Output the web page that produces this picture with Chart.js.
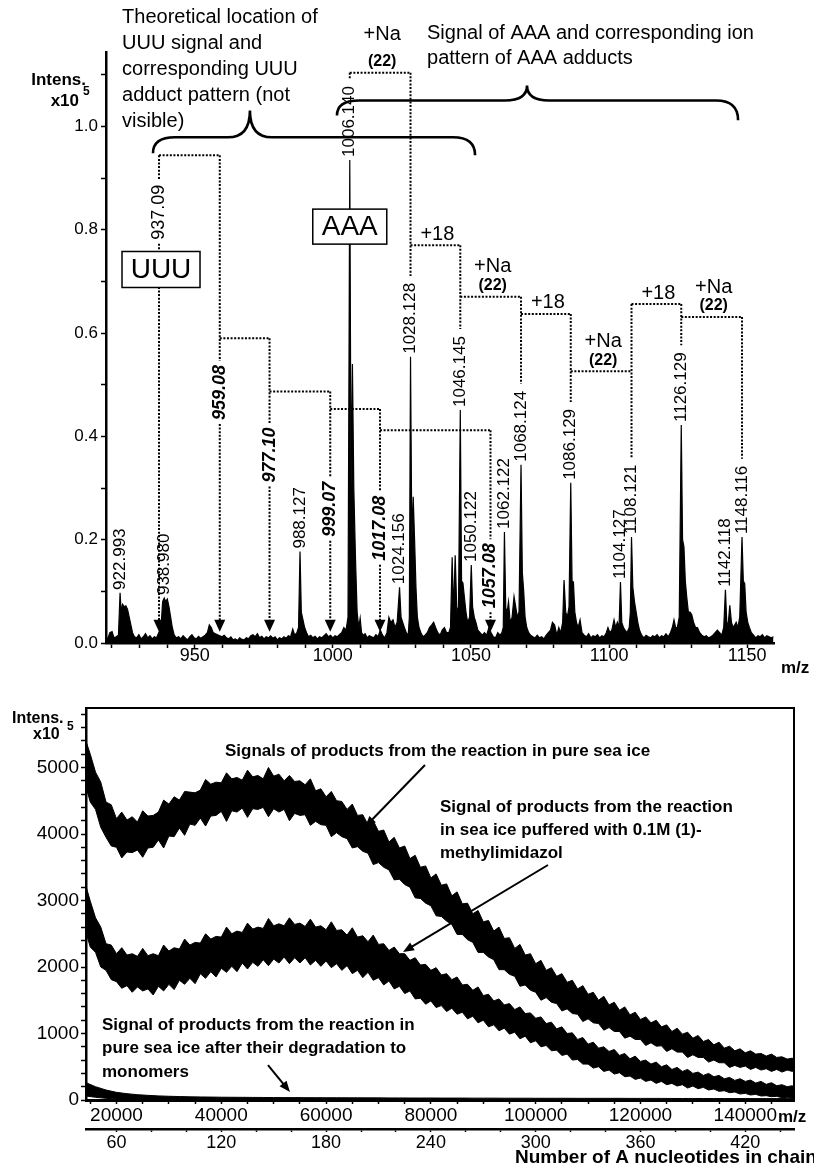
<!DOCTYPE html>
<html>
<head>
<meta charset="utf-8">
<script src="https://cdn.jsdelivr.net/npm/chart.js@4.4.1/dist/chart.umd.min.js"></script>
<style>
  html, body { margin: 0; padding: 0; background: #fff; }
  #wrap { position: relative; width: 814px; height: 1172px; overflow: hidden; }
  #top { position: absolute; left: 0; top: 0; }
  #bottom { position: absolute; left: 0; top: 690px; }
</style>
</head>
<body>
<div id="wrap">
  <canvas id="top" width="814" height="690"></canvas>
  <canvas id="bottom" width="814" height="482"></canvas>
</div>
<script>
const FONT = '"Liberation Sans", Arial, Helvetica, sans-serif';
Chart.defaults.font.family = FONT;
Chart.defaults.color = '#000';

// ---------- upper panel: spectrum around the trimers (intensity x10^5) ----------
const specMz = [
  917.9, 918.5, 919.3, 920.1, 920.8, 921.6, 922.4, 922.993, 923.4, 923.9,
  924.5, 925.1, 925.7, 926.3, 926.9, 927.5, 928.2, 929.0, 929.8, 930.6,
  931.4, 932.2, 933.0, 933.8, 934.6, 935.4, 936.2, 937.0, 937.8, 938.4,
  938.98, 939.5, 940.1, 940.7, 941.3, 941.9, 942.6, 943.4, 944.2, 945.0,
  945.8, 946.6, 947.4, 948.2, 949.0, 949.8, 950.6, 951.4, 952.2, 953.0,
  953.8, 954.6, 955.3, 956.0, 956.7, 957.5, 958.3, 959.1, 959.9, 960.7,
  961.5, 962.3, 963.1, 963.9, 964.7, 965.5, 966.3, 967.1, 967.9, 968.7,
  969.5, 970.3, 971.1, 971.9, 972.7, 973.5, 974.3, 975.1, 975.9, 976.7,
  977.5, 978.3, 979.1, 979.9, 980.7, 981.5, 982.3, 983.1, 983.9, 984.7,
  985.5, 986.2, 987.0, 987.6, 988.127, 988.6, 989.2, 989.8, 990.5, 991.2,
  992.0, 992.8, 993.6, 994.4, 995.2, 996.0, 996.8, 997.6, 998.4, 999.2,
  1000.0, 1000.8, 1001.6, 1002.4, 1003.2, 1004.0, 1004.8, 1005.5, 1006.14, 1006.6,
  1007.1, 1007.6, 1008.2, 1008.8, 1009.4, 1009.9, 1010.4, 1011.0, 1011.7, 1012.4,
  1013.2, 1014.0, 1014.8, 1015.6, 1016.4, 1017.2, 1018.0, 1018.8, 1019.6, 1020.3,
  1021.0, 1021.8, 1022.5, 1023.3, 1024.156, 1024.7, 1025.3, 1025.9, 1026.6, 1027.3,
  1027.7, 1028.128, 1028.6, 1029.1, 1029.6, 1030.1, 1030.6, 1031.2, 1031.9, 1032.6,
  1033.4, 1034.2, 1035.0, 1035.8, 1036.5, 1037.2, 1038.0, 1038.8, 1039.6, 1040.4,
  1041.2, 1042.0, 1042.6, 1043.2, 1043.7, 1044.3, 1044.9, 1045.5, 1046.145, 1046.6,
  1047.1, 1047.6, 1048.2, 1048.8, 1049.5, 1050.122, 1050.6, 1051.2, 1051.8, 1052.5,
  1053.3, 1054.1, 1054.9, 1055.7, 1056.5, 1057.3, 1058.1, 1058.9, 1059.7, 1060.5,
  1061.2, 1061.7, 1062.122, 1062.6, 1063.1, 1063.6, 1064.2, 1064.9, 1065.6, 1066.2,
  1066.8, 1067.4, 1068.124, 1068.6, 1069.1, 1069.6, 1070.2, 1070.9, 1071.6, 1072.4,
  1073.2, 1074.0, 1074.8, 1075.6, 1076.4, 1077.2, 1078.0, 1078.8, 1079.5, 1080.3,
  1081.1, 1081.8, 1082.5, 1083.2, 1083.7, 1084.3, 1084.9, 1085.5, 1086.129, 1086.6,
  1087.1, 1087.6, 1088.2, 1088.8, 1089.5, 1090.2, 1091.0, 1091.8, 1092.6, 1093.4,
  1094.2, 1095.0, 1095.8, 1096.6, 1097.4, 1098.2, 1099.0, 1099.6, 1100.3, 1101.0,
  1101.8, 1102.4, 1103.0, 1103.6, 1104.127, 1104.6, 1105.2, 1105.8, 1106.5, 1107.3,
  1107.7, 1108.121, 1108.6, 1109.2, 1109.8, 1110.4, 1111.0, 1111.8, 1112.6, 1113.4,
  1114.2, 1115.0, 1115.8, 1116.6, 1117.4, 1118.2, 1119.0, 1119.8, 1120.6, 1121.4,
  1122.2, 1122.9, 1123.5, 1124.1, 1124.7, 1125.4, 1126.129, 1126.6, 1127.1, 1127.6,
  1128.1, 1128.7, 1129.3, 1129.9, 1130.6, 1131.3, 1132.0, 1132.8, 1133.6, 1134.4,
  1135.2, 1136.0, 1136.8, 1137.6, 1138.4, 1139.2, 1140.0, 1140.8, 1141.5, 1142.118,
  1142.6, 1143.1, 1143.7, 1144.3, 1144.9, 1145.5, 1146.0, 1146.6, 1147.3, 1148.116,
  1148.6, 1149.1, 1149.6, 1150.2, 1150.8, 1151.5, 1152.3, 1153.1, 1153.9, 1154.7,
  1155.5, 1156.3, 1157.1, 1157.9, 1158.7, 1159.5
];
const specInt = [
  .012, .008, .02, .022, .01, .012, .015, .097, .06, .075,
  .07, .072, .065, .05, .035, .02, .012, .01, .016, .008,
  .012, .018, .01, .014, .008, .012, .01, .02, .03, .08,
  .087, .08, .085, .07, .05, .03, .015, .01, .012, .008,
  .014, .01, .006, .012, .016, .01, .008, .013, .009, .012,
  .015, .02, .035, .03, .02, .018, .016, .014, .012, .015,
  .01, .008, .012, .006, .008, .005, .01, .007, .006, .01,
  .008, .014, .016, .012, .018, .01, .013, .008, .012, .01,
  .014, .009, .012, .006, .01, .008, .012, .009, .014, .012,
  .027, .015, .02, .03, .177, .06, .045, .03, .02, .012,
  .015, .01, .013, .008, .012, .01, .014, .018, .012, .015,
  .01, .014, .012, .016, .02, .03, .025, .05, .935, .3,
  .54, .3, .165, .06, .03, .048, .02, .015, .018, .01,
  .014, .012, .01, .016, .012, .025, .015, .01, .02, .05,
  .04, .045, .03, .04, .108, .05, .04, .03, .02, .015,
  .05, .554, .2, .283, .2, .108, .05, .03, .02, .012,
  .015, .02, .03, .035, .04, .03, .02, .015, .025, .03,
  .02, .02, .03, .166, .06, .17, .06, .07, .451, .12,
  .116, .09, .06, .04, .05, .151, .07, .05, .04, .025,
  .02, .015, .02, .015, .03, .02, .012, .01, .02, .015,
  .02, .03, .215, .068, .06, .08, .04, .05, .09, .07,
  .05, .06, .345, .137, .1, .05, .03, .02, .015, .012,
  .01, .015, .01, .012, .008, .015, .02, .025, .04, .035,
  .015, .03, .02, .04, .122, .06, .05, .07, .31, .12,
  .118, .06, .04, .03, .045, .02, .015, .012, .018, .01,
  .014, .012, .016, .01, .014, .012, .02, .03, .02, .025,
  .045, .03, .04, .03, .118, .04, .03, .025, .02, .03,
  .06, .205, .108, .08, .06, .04, .025, .015, .01, .015,
  .012, .01, .014, .012, .016, .01, .014, .012, .018, .012,
  .02, .03, .045, .03, .03, .05, .422, .2, .186, .12,
  .09, .06, .06, .055, .04, .03, .03, .02, .015, .012,
  .014, .01, .012, .015, .02, .025, .02, .015, .03, .103,
  .04, .035, .073, .04, .03, .035, .04, .03, .05, .205,
  .12, .115, .06, .04, .03, .02, .015, .01, .014, .012,
  .016, .01, .014, .012, .01, .012
];
const peakLabels = [922.993, 938.980, 988.127, 1006.140, 1024.156, 1028.128, 1046.145, 1050.122,
  1062.122, 1068.124, 1086.129, 1104.127, 1108.121, 1126.129, 1142.118, 1148.116];

// AAA adduct ladder and the step between neighbours
const aaaChain = [1006.140, 1028.128, 1046.145, 1068.124, 1086.129, 1108.121, 1126.129, 1148.116];
const aaaSteps = ['+Na', '+18', '+Na', '+18', '+Na', '+18', '+Na'];
const aaaLevels = [1.104, 0.770, 0.670, 0.637, 0.526, 0.656, 0.631];

// theoretical UUU positions (not observed)
const uuuChain = [937.09, 959.08, 977.10, 999.07, 1017.08, 1057.08];
const uuuLevels = [0.944, 0.590, 0.487, 0.453, 0.412];

const topXLabels = [950, 1000, 1050, 1100, 1150];
const topYLabels = [0.0, 0.2, 0.4, 0.6, 0.8, 1.0];

// ---------- lower panel: broad polymer distributions ----------
const bandMz = [
  14200, 15000, 16000, 17000, 18000, 19000, 20000, 21000, 22000, 23000,
  24000, 25000, 26000, 27000, 28000, 29000, 30000, 31000, 32000, 33000,
  34000, 35000, 36000, 37000, 38000, 39000, 40000, 41000, 42000, 43000,
  44000, 45000, 46000, 47000, 48000, 49000, 50000, 51000, 52000, 53000,
  54000, 55000, 56000, 57000, 58000, 59000, 60000, 61000, 62000, 63000,
  64000, 65000, 66000, 67000, 68000, 69000, 70000, 71000, 72000, 73000,
  74000, 75000, 76000, 77000, 78000, 79000, 80000, 81000, 82000, 83000,
  84000, 85000, 86000, 87000, 88000, 89000, 90000, 91000, 92000, 93000,
  94000, 95000, 96000, 97000, 98000, 99000, 100000, 101000, 102000, 103000,
  104000, 105000, 106000, 107000, 108000, 109000, 110000, 111000, 112000, 113000,
  114000, 115000, 116000, 117000, 118000, 119000, 120000, 121000, 122000, 123000,
  124000, 125000, 126000, 127000, 128000, 129000, 130000, 131000, 132000, 133000,
  134000, 135000, 136000, 137000, 138000, 139000, 140000, 141000, 142000, 143000,
  144000, 145000, 146000, 147000, 148000, 149000, 149300
];
// pure sea ice: upper and lower edge of the noisy trace
const pureHigh = [
  5390, 5200, 4930, 4780, 4480, 4440, 4230, 4330, 4210, 4260,
  4180, 4350, 4270, 4280, 4330, 4510, 4450, 4560, 4510, 4640,
  4630, 4620, 4660, 4820, 4750, 4780, 4770, 4920, 4830, 4850,
  4810, 4960, 4860, 4880, 4830, 5000, 4870, 4900, 4800, 4880,
  4790, 4800, 4740, 4830, 4650, 4680, 4560, 4640, 4500, 4490,
  4370, 4450, 4280, 4290, 4140, 4200, 4040, 4060, 3880, 3950,
  3790, 3820, 3630, 3680, 3500, 3520, 3340, 3400, 3230, 3250,
  3070, 3130, 2950, 2960, 2800, 2850, 2680, 2700, 2540, 2600,
  2430, 2440, 2280, 2340, 2180, 2200, 2050, 2100, 1950, 1990,
  1860, 1900, 1770, 1800, 1670, 1720, 1590, 1620, 1500, 1560,
  1430, 1470, 1350, 1400, 1280, 1320, 1210, 1250, 1160, 1200,
  1100, 1130, 1030, 1080, 990, 1020, 930, 970, 880, 910,
  830, 870, 780, 810, 740, 770, 710, 740, 690, 700,
  660, 690, 640, 650, 615, 630, 600
];
const pureLow = [
  4700, 4480, 4370, 4100, 3950, 3820, 3800, 3640, 3730, 3720,
  3760, 3650, 3790, 3800, 3910, 3790, 3970, 3960, 4090, 3980,
  4150, 4130, 4240, 4120, 4270, 4280, 4340, 4190, 4350, 4330,
  4390, 4250, 4380, 4370, 4400, 4260, 4380, 4330, 4370, 4200,
  4310, 4280, 4290, 4130, 4190, 4140, 4130, 3960, 4020, 3960,
  3930, 3790, 3810, 3740, 3710, 3540, 3570, 3500, 3460, 3310,
  3320, 3240, 3200, 3040, 3030, 2960, 2920, 2770, 2760, 2690,
  2640, 2490, 2490, 2410, 2370, 2220, 2220, 2150, 2110, 1960,
  1960, 1890, 1860, 1710, 1730, 1650, 1620, 1500, 1540, 1470,
  1450, 1340, 1370, 1300, 1290, 1180, 1220, 1160, 1150, 1050,
  1090, 1030, 1030, 930, 960, 910, 910, 820, 860, 810,
  815, 730, 770, 720, 720, 640, 680, 640, 640, 570,
  600, 560, 560, 490, 520, 490, 510, 460, 490, 450,
  470, 430, 460, 420, 450, 430, 450
];
// sea ice buffered with 0.1M (1)-methylimidazol
const bufHigh = [
  3210, 2990, 2740, 2600, 2350, 2330, 2200, 2290, 2180, 2200,
  2160, 2280, 2170, 2200, 2170, 2330, 2240, 2290, 2270, 2420,
  2330, 2370, 2360, 2500, 2420, 2460, 2450, 2600, 2500, 2540,
  2520, 2660, 2570, 2600, 2580, 2730, 2620, 2650, 2620, 2740,
  2640, 2660, 2610, 2720, 2600, 2620, 2560, 2680, 2550, 2560,
  2480, 2590, 2450, 2470, 2380, 2480, 2340, 2350, 2250, 2300,
  2200, 2200, 2100, 2140, 2030, 2040, 1950, 1990, 1880, 1900,
  1810, 1850, 1730, 1740, 1650, 1700, 1570, 1590, 1490, 1520,
  1430, 1450, 1360, 1400, 1300, 1310, 1230, 1250, 1150, 1170,
  1070, 1100, 1000, 1010, 910, 940, 840, 870, 780, 800,
  730, 760, 670, 700, 620, 660, 580, 600, 540, 570,
  500, 530, 460, 490, 430, 460, 400, 420, 370, 400,
  350, 370, 320, 340, 295, 320, 280, 300, 255, 280,
  235, 260, 215, 230, 200, 215, 190
];
const bufLow = [
  2510, 2300, 2220, 2000, 1950, 1810, 1780, 1680, 1720, 1620,
  1700, 1640, 1670, 1580, 1710, 1640, 1740, 1660, 1800, 1740,
  1830, 1750, 1900, 1830, 1930, 1850, 1980, 1920, 2010, 1930,
  2060, 1970, 2070, 2010, 2110, 2020, 2120, 2060, 2150, 2050,
  2140, 2060, 2140, 2030, 2100, 2010, 2090, 1990, 2050, 1950,
  2020, 1900, 1950, 1840, 1920, 1800, 1840, 1730, 1790, 1670,
  1710, 1600, 1640, 1520, 1530, 1440, 1490, 1390, 1420, 1330,
  1380, 1290, 1320, 1220, 1260, 1160, 1200, 1100, 1130, 1040,
  1080, 990, 1020, 920, 960, 860, 890, 800, 820, 740,
  750, 670, 690, 600, 610, 540, 540, 480, 500, 430,
  450, 390, 410, 350, 360, 310, 330, 280, 300, 250,
  280, 230, 250, 210, 230, 180, 210, 170, 190, 150,
  165, 130, 140, 110, 120, 90, 100, 75, 85, 60,
  65, 50, 55, 35, 40, 25, 30
];
// after degradation to monomers
const monoMz = [
  14200, 16000, 18000, 20000, 22000, 24000, 26000, 28000, 30000, 32000,
  34000, 36000, 38000, 40000, 42000, 44000, 46000, 48000, 50000, 52000,
  54000, 56000, 58000, 60000, 62000, 64000, 66000, 68000, 70000, 72000,
  74000, 76000, 78000, 80000, 82000, 84000, 86000, 88000, 90000, 92000,
  94000, 96000, 98000, 100000, 102000, 104000, 106000, 108000, 110000, 112000,
  114000, 116000, 118000, 120000, 122000, 124000, 126000, 128000, 130000, 132000,
  134000, 136000, 138000, 140000, 142000, 144000, 146000, 148000, 149300
];
const monoHigh = [
  260, 200, 150, 115, 95, 80, 70, 62, 56, 52,
  48, 46, 44, 42, 41, 40, 39, 38, 37, 36,
  36, 35, 35, 34, 34, 33, 33, 32, 32, 31,
  31, 30, 30, 30, 29, 29, 29, 28, 28, 28,
  27, 27, 27, 26, 26, 26, 26, 25, 25, 25,
  25, 25, 24, 24, 24, 24, 23, 23, 23, 23,
  22, 22, 22, 22, 21, 21, 21, 21, 20
];
const monoLow = [
  60, 40, 25, 15, 10, 8, 6, 5, 4, 4,
  3, 3, 3, 3, 3, 3, 3, 3, 3, 3,
  3, 3, 3, 3, 3, 3, 3, 3, 3, 3,
  3, 3, 3, 3, 3, 3, 3, 3, 3, 3,
  3, 3, 3, 3, 3, 3, 3, 3, 3, 3,
  3, 3, 3, 3, 3, 3, 3, 3, 3, 3,
  3, 3, 3, 3, 3, 3, 3, 3, 3
];
const massPerNucleotide = 333.33;
const bottomXLabels = [20000, 40000, 60000, 80000, 100000, 120000, 140000];
const bottomYLabels = [0, 1000, 2000, 3000, 4000, 5000];
const nucleotideLabels = [60, 120, 180, 240, 300, 360, 420];

// ---------- helpers ----------
const hasLabel = (list, v) => list.some(l => Math.abs(l - v) < 1e-6);

// tick marks at every multiple of step inside the axis range
const stepTicks = step => scale => {
  const out = [];
  for (let v = Math.ceil(scale.min / step - 1e-9) * step; v <= scale.max + 1e-9; v += step) {
    out.push({ value: Math.round(v * 1000) / 1000 });
  }
  scale.ticks = out;
};

function peakHeight(m) {
  let best = 0;
  specMz.forEach((v, i) => { if (Math.abs(v - m) < Math.abs(specMz[best] - m)) best = i; });
  return specInt[best];
}

function line(ctx, x1, y1, x2, y2) {
  ctx.beginPath(); ctx.moveTo(x1, y1); ctx.lineTo(x2, y2); ctx.stroke();
}

function arrowHead(ctx, x1, y1, x2, y2, len, half) {
  const a = Math.atan2(y2 - y1, x2 - x1);
  ctx.beginPath();
  ctx.moveTo(x2, y2);
  ctx.lineTo(x2 - len * Math.cos(a) + half * Math.sin(a), y2 - len * Math.sin(a) - half * Math.cos(a));
  ctx.lineTo(x2 - len * Math.cos(a) - half * Math.sin(a), y2 - len * Math.sin(a) + half * Math.cos(a));
  ctx.closePath(); ctx.fill();
}

function brace(ctx, xl, yl, xm, xr, yr, yH, yTip) {
  const r = 22;
  ctx.beginPath();
  ctx.moveTo(xl, yl);
  ctx.quadraticCurveTo(xl, yH, xl + r, yH);
  ctx.lineTo(xm - r, yH);
  ctx.quadraticCurveTo(xm, yH, xm, yTip);
  ctx.quadraticCurveTo(xm, yH, xm + r, yH);
  ctx.lineTo(xr - r, yH);
  ctx.quadraticCurveTo(xr, yH, xr, yr);
  ctx.stroke();
}

function boxedText(ctx, text, cx, cy, w, h, size) {
  ctx.setLineDash([]);
  ctx.fillStyle = '#fff';
  ctx.fillRect(cx - w / 2, cy - h / 2, w, h);
  ctx.lineWidth = 1.5;
  ctx.strokeStyle = '#000';
  ctx.strokeRect(cx - w / 2, cy - h / 2, w, h);
  ctx.fillStyle = '#000';
  ctx.font = size + 'px ' + FONT;
  ctx.textAlign = 'center';
  ctx.textBaseline = 'middle';
  ctx.fillText(text, cx, cy + 1);
}

// ---------- annotations of the upper panel ----------
const topNotes = {
  id: 'topNotes',
  afterDraw(chart) {
    const { ctx, scales: { x, y } } = chart;
    const X = v => x.getPixelForValue(v);
    const Y = v => y.getPixelForValue(v);
    ctx.save();
    ctx.fillStyle = '#000';
    ctx.strokeStyle = '#000';

    // rotated m/z labels on top of the peaks
    ctx.font = '17px ' + FONT;
    const labelTop = {};
    peakLabels.forEach(m => {
      const txt = m.toFixed(3);
      const px = X(m), py = Y(peakHeight(m)) - 3;
      const w = ctx.measureText(txt).width;
      labelTop[txt] = py - w;
      ctx.save();
      ctx.translate(px, py);
      ctx.rotate(-Math.PI / 2);
      ctx.textAlign = 'left';
      ctx.textBaseline = 'middle';
      ctx.fillText(txt, 0, 0);
      ctx.restore();
    });

    // AAA adduct ladder (dotted)
    ctx.setLineDash([2, 1.6]);
    ctx.lineWidth = 2;
    aaaChain.forEach((m, i) => {
      const lv = Math.max(i > 0 ? aaaLevels[i - 1] : 0, i < aaaLevels.length ? aaaLevels[i] : 0);
      line(ctx, X(m), Y(lv), X(m), labelTop[m.toFixed(3)] - 7);
    });
    aaaLevels.forEach((lv, i) => {
      const x1 = X(aaaChain[i]), x2 = X(aaaChain[i + 1]), yy = Y(lv);
      line(ctx, x1, yy, x2, yy);
      const mid = (x1 + x2) / 2 + 2;
      ctx.textAlign = 'center';
      ctx.textBaseline = 'middle';
      if (aaaSteps[i] === '+Na') {
        ctx.font = '20px ' + FONT;
        ctx.fillText('+Na', mid, yy - (i === 0 ? 38 : 30));
        ctx.font = 'bold 16px ' + FONT;
        ctx.fillText('(22)', mid, yy - 11);
      } else {
        ctx.font = '20px ' + FONT;
        ctx.fillText(aaaSteps[i], mid, yy - 11);
      }
    });

    // theoretical UUU positions: dotted drop lines with arrows
    const uuuLabelAt = [0.834, 0.485, 0.364, 0.259, 0.222, 0.130];
    const tipAt = 0.022;
    uuuChain.forEach((m, k) => {
      const px = X(m);
      const top = Y(Math.max(k > 0 ? uuuLevels[k - 1] : 0, k < uuuLevels.length ? uuuLevels[k] : 0));
      const tip = Y(tipAt);
      const txt = m.toFixed(2);
      ctx.font = (k === 0 ? '' : 'italic bold ') + '18px ' + FONT;
      const hw = ctx.measureText(txt).width / 2;
      const cy = Y(uuuLabelAt[k]);
      ctx.setLineDash([2, 1.6]);
      ctx.lineWidth = 2;
      line(ctx, px, top, px, cy - hw - 4);
      line(ctx, px, cy + hw + 4, px, tip - 10);
      ctx.setLineDash([]);
      arrowHead(ctx, px, tip - 20, px, tip, 12, 5.5);
      ctx.save();
      ctx.translate(px, cy);
      ctx.rotate(-Math.PI / 2);
      ctx.textAlign = 'center';
      ctx.textBaseline = 'middle';
      ctx.fillText(txt, 0, 0);
      ctx.restore();
    });
    ctx.setLineDash([2, 1.6]);
    uuuLevels.forEach((lv, k) => line(ctx, X(uuuChain[k]), Y(lv), X(uuuChain[k + 1]), Y(lv)));

    // boxes
    boxedText(ctx, 'UUU', X(uuuChain[0]) + 2, Y(0.723), 78, 36, 28);
    boxedText(ctx, 'AAA', X(aaaChain[0]), Y(0.806), 74, 35, 28);

    // braces
    ctx.setLineDash([]);
    ctx.lineWidth = 2.6;
    brace(ctx, X(934.9), Y(0.948), X(970.0), X(1051.5), Y(0.944), Y(0.979), Y(1.031));
    brace(ctx, X(1001.5), Y(1.021), X(1070.3), X(1146.7), Y(1.012), Y(1.050), Y(1.079));

    // text blocks
    ctx.font = '20px ' + FONT;
    ctx.textAlign = 'left';
    ctx.textBaseline = 'middle';
    ['Theoretical location of', 'UUU signal and', 'corresponding UUU', 'adduct pattern (not', 'visible)']
      .forEach((t, i) => ctx.fillText(t, X(923.72), Y(1.211 - i * 0.0503)));
    ['Signal of AAA and corresponding ion', 'pattern of AAA adducts']
      .forEach((t, i) => ctx.fillText(t, X(1034.1), Y(1.179 - i * 0.048)));

    // axis captions
    ctx.font = 'bold 17px ' + FONT;
    ctx.textAlign = 'right';
    ctx.fillText('Intens.', 86, 80);
    ctx.fillText('x10', 79, 101);
    ctx.font = 'bold 12px ' + FONT;
    ctx.textAlign = 'left';
    ctx.fillText('5', 83, 92);
    ctx.font = 'bold 17px ' + FONT;
    ctx.fillText('m/z', chart.chartArea.right + 7, chart.chartArea.bottom + 25);
    ctx.restore();
  }
};

const tickGrid = { drawOnChartArea: false, tickLength: 5, tickColor: '#000', tickWidth: 1.5 };

new Chart(document.getElementById('top'), {
  type: 'line',
  data: {
    datasets: [{
      data: specMz.map((m, i) => ({ x: m, y: specInt[i] })),
      borderColor: '#000',
      backgroundColor: '#000',
      borderWidth: 1.2,
      pointRadius: 0,
      tension: 0,
      fill: 'origin'
    }]
  },
  options: {
    responsive: false,
    animation: false,
    devicePixelRatio: 1,
    layout: { padding: { left: 0, top: 52, right: 40, bottom: 0 } },
    plugins: { legend: { display: false }, tooltip: { enabled: false } },
    scales: {
      x: {
        type: 'linear', min: 917.9, max: 1159.7,
        afterFit: s => { s.height = 47; },
        afterBuildTicks: stepTicks(10),
        ticks: {
          autoSkip: false, maxRotation: 0, padding: -3,
          font: { size: 18 },
          callback: v => hasLabel(topXLabels, v) ? String(v) : ''
        },
        grid: tickGrid,
        border: { color: '#000', width: 2.5 }
      },
      y: {
        min: 0, max: 1.144,
        afterFit: s => { s.width = 106; },
        afterBuildTicks: stepTicks(0.1),
        ticks: {
          autoSkip: false, padding: 3,
          font: { size: 17 },
          callback: v => hasLabel(topYLabels, v) ? v.toFixed(1) : ''
        },
        grid: tickGrid,
        border: { color: '#000', width: 2.5 }
      }
    }
  },
  plugins: [topNotes]
});

// ---------- annotations of the lower panel ----------
const bottomNotes = {
  id: 'bottomNotes',
  afterDraw(chart) {
    const { ctx, chartArea: a, scales: { x, y } } = chart;
    const X = v => x.getPixelForValue(v);
    const Y = v => y.getPixelForValue(v);
    ctx.save();
    ctx.strokeStyle = '#000';
    ctx.fillStyle = '#000';
    ctx.lineWidth = 2;
    ctx.beginPath();
    ctx.moveTo(a.left, a.top); ctx.lineTo(a.right, a.top); ctx.lineTo(a.right, a.bottom);
    ctx.stroke();

    ctx.font = 'bold 17px ' + FONT;
    ctx.textAlign = 'left';
    ctx.textBaseline = 'middle';
    ctx.fillText('Signals of products from the reaction in pure sea ice', X(40707), Y(5248));
    ['Signal of products from the reaction', 'in sea ice puffered with 0.1M (1)-', 'methylimidazol']
      .forEach((t, i) => ctx.fillText(t, X(81737), Y(4406 - i * 346)));
    ['Signal of products from the reaction in', 'pure sea ice after their degradation to', 'monomers']
      .forEach((t, i) => ctx.fillText(t, X(17233), Y(1128 - i * 353)));

    ctx.lineWidth = 2;
    [[78875, 5038, 67424, 4105], [102350, 3534, 74675, 2226], [48915, 526, 53110, 120]].forEach(([m1, v1, m2, v2]) => {
      const x1 = X(m1), y1 = Y(v1), x2 = X(m2), y2 = Y(v2);
      const ang = Math.atan2(y2 - y1, x2 - x1);
      line(ctx, x1, y1, x2 - 8 * Math.cos(ang), y2 - 8 * Math.sin(ang));
      arrowHead(ctx, x1, y1, x2, y2, 11, 4.5);
    });

    ctx.font = 'bold 16px ' + FONT;
    ctx.textAlign = 'left';
    ctx.fillText('Intens.', 12, 29);
    ctx.fillText('x10', 33, 45);
    ctx.font = 'bold 12px ' + FONT;
    ctx.fillText('5', 67, 37);
    ctx.font = 'bold 17px ' + FONT;
    ctx.fillText('m/z', a.right - 16, a.bottom + 17);
    ctx.font = 'bold 19px ' + FONT;
    ctx.fillText('Number of A nucleotides in chain', a.right - 279, a.bottom + 58);
    ctx.restore();
  }
};

const band = (xs, hi, lo) => [
  { data: hi.map((v, i) => ({ x: xs[i], y: v })), borderColor: '#000', borderWidth: 1, pointRadius: 0, fill: false },
  { data: lo.map((v, i) => ({ x: xs[i], y: v })), borderColor: '#000', borderWidth: 1, pointRadius: 0, fill: '-1', backgroundColor: '#000' }
];

const xMin = 14180, xMax = 149300;
new Chart(document.getElementById('bottom'), {
  type: 'line',
  data: {
    datasets: [
      ...band(bandMz, pureHigh, pureLow),
      ...band(bandMz, bufHigh, bufLow),
      ...band(monoMz, monoHigh, monoLow)
    ]
  },
  options: {
    responsive: false,
    animation: false,
    devicePixelRatio: 1,
    layout: { padding: { left: 0, top: 18, right: 20, bottom: 0 } },
    plugins: { legend: { display: false }, tooltip: { enabled: false } },
    scales: {
      x: {
        type: 'linear', position: 'bottom', min: xMin, max: xMax, weight: 0,
        afterFit: s => { s.height = 29; },
        afterBuildTicks: stepTicks(5000),
        ticks: {
          autoSkip: false, maxRotation: 0, padding: 0,
          font: { size: 19 },
          callback: v => hasLabel(bottomXLabels, v) ? String(v) : ''
        },
        grid: { drawOnChartArea: false, tickLength: 4, tickColor: '#000', tickWidth: 1.5 },
        border: { color: '#000', width: 3 }
      },
      x2: {
        type: 'linear', position: 'bottom', weight: 1,
        min: xMin / massPerNucleotide, max: xMax / massPerNucleotide,
        afterFit: s => { s.height = 43; },
        afterBuildTicks: stepTicks(20),
        ticks: {
          autoSkip: false, maxRotation: 0, padding: 0,
          font: { size: 18 },
          callback: v => hasLabel(nucleotideLabels, v) ? String(v) : ''
        },
        grid: { drawOnChartArea: false, tickLength: 3, tickColor: '#000', tickWidth: 1.5 },
        border: { color: '#000', width: 2.5 }
      },
      y: {
        min: 0, max: 5895,
        afterFit: s => { s.width = 86; },
        afterBuildTicks: stepTicks(200),
        ticks: {
          autoSkip: false, padding: 2,
          font: { size: 19 },
          callback: v => hasLabel(bottomYLabels, v) ? String(v) : ''
        },
        grid: tickGrid,
        border: { color: '#000', width: 2.5 }
      }
    }
  },
  plugins: [bottomNotes]
});
</script>
</body>
</html>
